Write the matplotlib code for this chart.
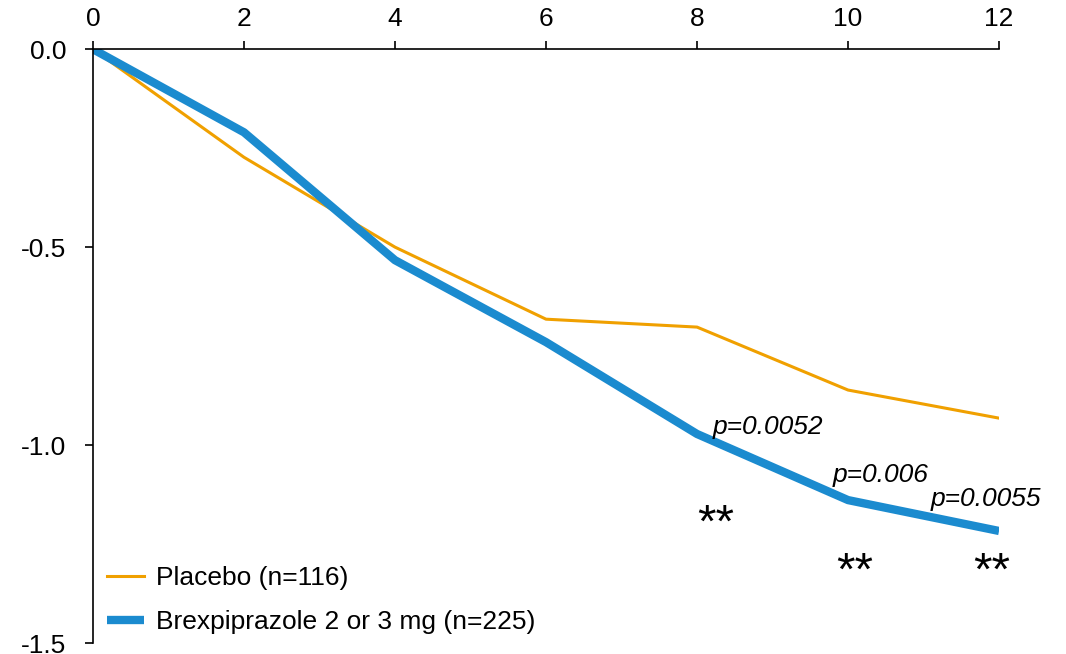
import matplotlib.pyplot as plt

plt.rcParams['font.family'] = ['Liberation Sans', 'DejaVu Sans']

weeks = [0, 2, 4, 6, 8, 10, 12]
placebo = [0.0, -0.273, -0.50, -0.682, -0.702, -0.861, -0.932]
brex = [0.0, -0.21, -0.533, -0.74, -0.972, -1.139, -1.217]
yticks = [0.0, -0.5, -1.0, -1.5]

p_labels = ['p=0.0052', 'p=0.006', 'p=0.0055']
p_x = [8.21, 9.80, 11.10]
p_y = [-0.972, -1.093, -1.154]
star_x = [8.245, 10.09, 11.90]
star_y = [-1.232, -1.352, -1.352]


def main():
    fig = plt.figure(figsize=(10.66, 6.54), dpi=100)
    ax = fig.add_axes([0.0872, 0.0168, 0.85, 0.908])

    ax.plot(weeks, placebo, color='#F0A000', lw=2.2, label='Placebo (n=116)')
    ax.plot(weeks, brex, color='#1B8BCF', lw=6, label='Brexpiprazole 2 or 3 mg (n=225)',
            solid_capstyle='butt')

    ax.set_xlim(0, 12)
    ax.set_ylim(-1.5, 0)
    ax.set_xticks(weeks)
    ax.set_yticks(yticks)
    ax.set_yticklabels([f'{v:.1f}' for v in yticks])
    ax.xaxis.tick_top()
    ax.tick_params(axis='both', labelsize=19, direction='out', length=6, width=1.2)
    ax.tick_params(axis='x', pad=7)
    ax.tick_params(axis='y', pad=13)
    ax.spines['right'].set_visible(False)
    ax.spines['bottom'].set_visible(False)
    for s in ['top', 'left']:
        ax.spines[s].set_linewidth(1.2)

    for lbl, x, y in zip(p_labels, p_x, p_y):
        ax.text(x, y, lbl, fontsize=19, style='italic', va='baseline', ha='left')
    for x, y in zip(star_x, star_y):
        ax.text(x, y, '**', fontsize=34, va='baseline', ha='center')

    ax.legend(loc='lower left', bbox_to_anchor=(0.005, 0.0), frameon=False, fontsize=19,
              handlelength=1.4, handletextpad=0.45, labelspacing=0.75,
              borderaxespad=0.0, borderpad=0.35)

    fig.savefig('out.png', dpi=100)


if __name__ == '__main__':
    main()
